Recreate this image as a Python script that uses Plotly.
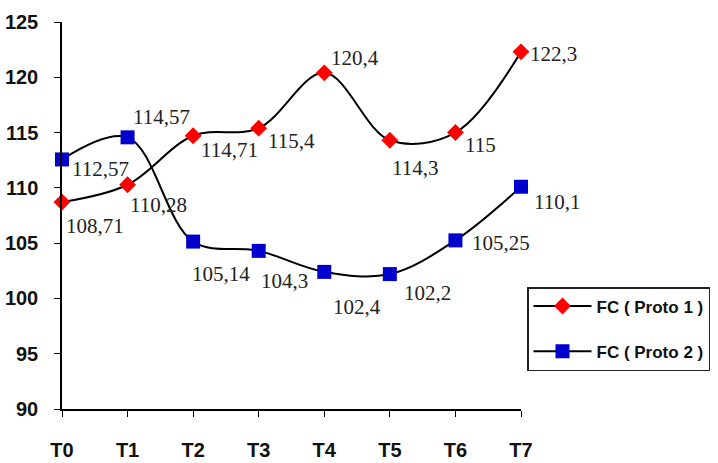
import plotly.graph_objects as go

categories = ["T0", "T1", "T2", "T3", "T4", "T5", "T6", "T7"]
proto1 = [108.71, 110.28, 114.71, 115.4, 120.4, 114.3, 115, 122.3]
proto2 = [112.57, 114.57, 105.14, 104.3, 102.4, 102.2, 105.25, 110.1]
y_ticks = [90, 95, 100, 105, 110, 115, 120, 125]

# label offsets in pixels (dx right, dy down) relative to each point
proto1_dx = [33, 31, 36, 33, 31, 25, 25, 32]
proto1_dy = [24, 20, 14, 13, -15, 28, 12, 2]
proto2_dx = [38, 34, 28, 26, 33, 38, 46, 36]
proto2_dy = [10, -20, 32, 30, 35, 19, 3, 15]

SANS = "Liberation Sans"


def fmt(v):
    return ("%g" % v).replace(".", ",")


xs = list(range(len(categories)))
fig = go.Figure()
fig.add_trace(go.Scatter(
    x=xs, y=proto1, name="FC ( Proto 1 )", mode="lines+markers",
    line=dict(color="black", width=2, shape="spline", smoothing=1),
    marker=dict(symbol="diamond", color="#ff0000", size=13),
    legendgroup="a", cliponaxis=False,
))
fig.add_trace(go.Scatter(
    x=xs, y=proto2, name="FC ( Proto 2 )", mode="lines+markers",
    line=dict(color="black", width=2, shape="spline", smoothing=1),
    marker=dict(symbol="square", color="#0000cc", size=14),
    legendgroup="b", cliponaxis=False,
))

annos = []
for vals, dxs, dys in [(proto1, proto1_dx, proto1_dy), (proto2, proto2_dx, proto2_dy)]:
    for i, v in enumerate(vals):
        annos.append(dict(
            x=xs[i], y=v, xref="x", yref="y", text=fmt(v), showarrow=False,
            xshift=dxs[i], yshift=-dys[i],
            font=dict(family="Liberation Serif", size=21, color="#222222"),
        ))

fig.update_layout(
    width=718, height=463,
    margin=dict(l=62, r=197, t=22, b=54),
    plot_bgcolor="white", paper_bgcolor="white",
    font=dict(family=SANS, color="#111111"),
    showlegend=True,
    annotations=annos,
    legend=dict(
        xref="container", yref="container",
        x=527 / 718, y=1 - 287 / 463, xanchor="left", yanchor="top",
        bordercolor="#222222", borderwidth=1.5,
        font=dict(family=SANS, size=17, color="#111111", weight="bold"),
        itemwidth=58, tracegroupgap=20, traceorder="grouped",
        bgcolor="white",
    ),
    xaxis=dict(
        range=[0, 7], tickvals=xs, ticktext=categories, automargin=False,
        showgrid=False, zeroline=False, showline=True, linecolor="black", linewidth=1.5,
        ticks="outside", ticklen=6, tickcolor="black",
        tickfont=dict(family=SANS, size=20, color="#111111", weight="bold"),
        ticklabelstandoff=16,
    ),
    yaxis=dict(
        range=[90, 125], tickvals=y_ticks, automargin=False,
        showgrid=False, zeroline=False, showline=True, linecolor="black", linewidth=1.5,
        ticks="outside", ticklen=6, tickcolor="black",
        tickfont=dict(family=SANS, size=20, color="#111111", weight="bold"),
        ticklabelstandoff=12,
    ),
)

fig.write_html("out.html", config={"displayModeBar": False},
               post_script="document.body.style.margin='0';")
